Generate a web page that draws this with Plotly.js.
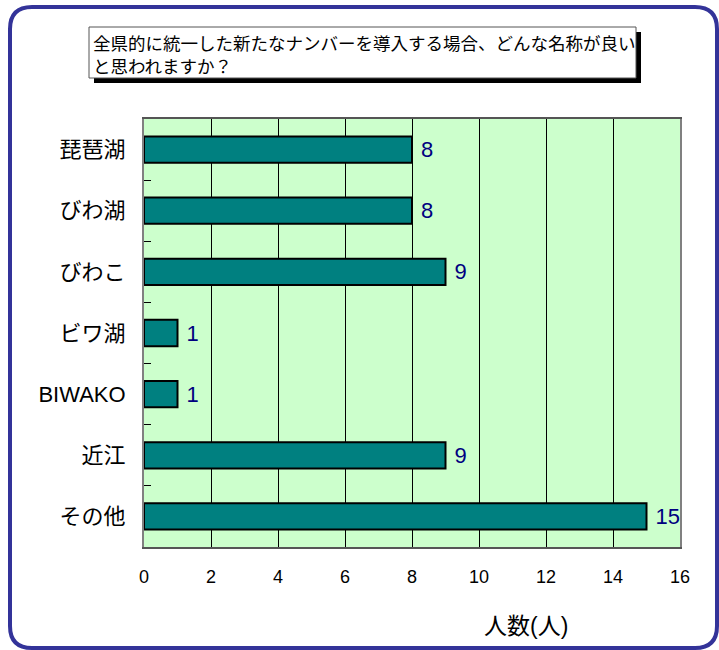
<!DOCTYPE html>
<html>
<head>
<meta charset="utf-8">
<script src="https://cdn.plot.ly/plotly-3.0.1.min.js"></script>
<style>html,body{margin:0;padding:0;background:#fff;}#chart{width:719px;height:650px;}</style>
</head>
<body>
<div id="chart"></div>
<script>
const categories = ["琵琶湖", "びわ湖", "びわこ", "ビワ湖", "BIWAKO", "近江", "その他"];
const counts = [8, 8, 9, 1, 1, 9, 15];
const xTicks = [0, 2, 4, 6, 8, 10, 12, 14, 16];
const chartTitle = "全県的に統一した新たなナンバーを導入する場合、どんな名称が良い<br>と思われますか？";
const xTitle = "人数(人)";

const W = 719, H = 650;
const M = {l: 144, r: 39, t: 119, b: 103};
const pw = W - M.l - M.r, ph = H - M.t - M.b;
const px = v => (v - M.l) / pw;
const py = v => (H - M.b - v) / ph;

const fx0 = px(10), fx1 = px(717), fy0 = py(7), fy1 = py(648);
const rx = 22 / pw, ry = 22 / ph;
const framePath = `M ${fx0+rx},${fy0} L ${fx1-rx},${fy0} Q ${fx1},${fy0} ${fx1},${fy0-ry} L ${fx1},${fy1+ry} Q ${fx1},${fy1} ${fx1-rx},${fy1} L ${fx0+rx},${fy1} Q ${fx0},${fy1} ${fx0},${fy1+ry} L ${fx0},${fy0-ry} Q ${fx0},${fy0} ${fx0+rx},${fy0} Z`;

const jp = '"Liberation Sans", "Noto Sans CJK JP", Arial, sans-serif';

const trace = {
  type: 'bar',
  orientation: 'h',
  y: categories,
  x: counts,
  texttemplate: ' %{x}',
  textposition: 'outside',
  cliponaxis: false,
  textfont: {family: jp, size: 22, color: '#000080'},
  marker: {color: '#008080', line: {color: '#000000', width: 2}},
  width: 0.43,
  hoverinfo: 'none'
};

const layout = {
  width: W, height: H,
  margin: M,
  paper_bgcolor: '#ffffff',
  plot_bgcolor: '#CCFFCC',
  showlegend: false,
  font: {family: jp, color: '#000000'},
  xaxis: {
    range: [0, 16],
    tickvals: xTicks,
    ticktext: xTicks.map(String),
    showgrid: true, gridcolor: '#000000', gridwidth: 1,
    zeroline: false,
    showline: true, linecolor: '#555555', linewidth: 2, mirror: true,
    ticks: '',
    ticklabelstandoff: 12,
    tickfont: {family: jp, size: 18, color: '#000000'}
  },
  yaxis: {
    type: 'category',
    autorange: 'reversed',
    showgrid: false,
    zeroline: false,
    showline: true, linecolor: '#808080', linewidth: 2, mirror: true,
    ticks: 'inside', tickson: 'boundaries', ticklen: 7, tickcolor: '#000000', tickwidth: 1,
    ticklabelstandoff: 12,
    tickfont: {family: jp, size: 22, color: '#000000'}
  },
  shapes: [
    {type: 'path', xref: 'paper', yref: 'paper', path: framePath, line: {color: '#333399', width: 4}, fillcolor: 'rgba(0,0,0,0)', layer: 'below'},
    {type: 'rect', xref: 'paper', yref: 'paper', x0: px(94), x1: px(641), y0: py(32), y1: py(83), fillcolor: '#000000', line: {width: 0}, layer: 'above'},
    {type: 'rect', xref: 'paper', yref: 'paper', x0: px(89), x1: px(636), y0: py(27), y1: py(78), fillcolor: '#ffffff', line: {color: '#555555', width: 1}, layer: 'above'}
  ],
  annotations: [
    {xref: 'paper', yref: 'paper', x: px(91), y: py(28), xanchor: 'left', yanchor: 'top', align: 'left',
     text: chartTitle, showarrow: false, font: {family: '"Noto Sans CJK JP", sans-serif', size: 17.5, color: '#000000'}},
    {xref: 'paper', yref: 'paper', x: px(526), y: py(626), xanchor: 'center', yanchor: 'middle',
     text: xTitle, showarrow: false, font: {family: jp, size: 23, color: '#000000'}}
  ]
};

Plotly.newPlot('chart', [trace], layout, {staticPlot: true, displayModeBar: false});
</script>
</body>
</html>
